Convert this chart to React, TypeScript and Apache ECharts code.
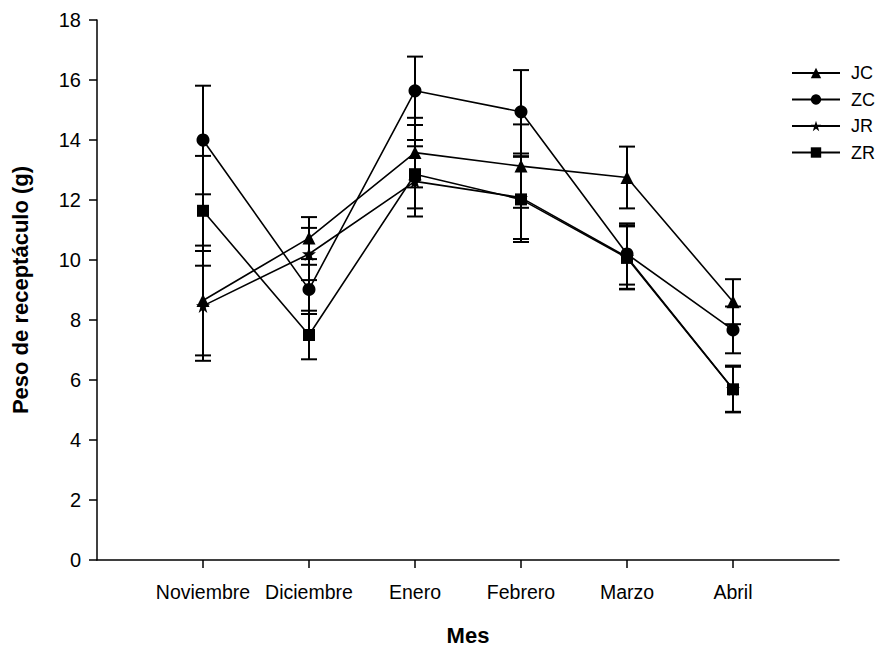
import React, { useEffect, useRef } from "react";
import * as echarts from "echarts";

const months = ["Noviembre", "Diciembre", "Enero", "Febrero", "Marzo", "Abril"];
const categories = [" ", ...months, "  "];
const yTicks = { min: 0, max: 18, interval: 2 };

const seriesNames = ["JC", "ZC", "JR", "ZR"];
const jcValues = [8.65, 10.73, 13.58, 13.13, 12.75, 8.61];
const jcErrors = [1.83, 0.7, 1.16, 1.39, 1.03, 0.75];
const zcValues = [14.0, 9.02, 15.64, 14.94, 10.2, 7.67];
const zcErrors = [1.81, 0.82, 1.14, 1.39, 1.02, 0.78];
const jrValues = [8.47, 10.2, 12.62, 12.08, 10.1, 5.7];
const jrErrors = [1.83, 0.87, 1.17, 1.38, 1.06, 0.78];
const zrValues = [11.64, 7.5, 12.86, 12.02, 10.07, 5.69];
const zrErrors = [1.83, 0.81, 1.14, 1.42, 1.05, 0.75];

const STAR =
  "path://M50,0 L61.8,35.1 L98.9,35.1 L68.9,56.9 L80.3,92.1 L50,70.4 L19.7,92.1 L31.1,56.9 L1.1,35.1 L38.2,35.1 Z";

const symbols = ["triangle", "circle", STAR, "rect"];
const symbolSizes = [13, 13, 14, 12];
const allValues = [jcValues, zcValues, jrValues, zrValues];
const allErrors = [jcErrors, zcErrors, jrErrors, zrErrors];

export default function App() {
  const ref = useRef<HTMLDivElement>(null);
  useEffect(() => {
    if (!ref.current) return;
    const chart = echarts.init(ref.current, null, { renderer: "svg" });
    const font = "Liberation Sans, Arial, sans-serif";

    const lineSeries = seriesNames.map((name, i) => ({
      name,
      type: "line",
      data: allValues[i].map((v, j) => [j + 1, v]),
      symbol: symbols[i],
      symbolSize: symbolSizes[i],
      showSymbol: true,
      lineStyle: { color: "#000", width: 1.6 },
      itemStyle: { color: "#000" },
      z: 3,
    }));

    const errorSeries = seriesNames.map((name, i) => ({
      name: name + "_err",
      type: "custom",
      data: allValues[i].map((v, j) => [j + 1, v - allErrors[i][j], v + allErrors[i][j]]),
      renderItem: (params: any, api: any) => {
        const x = api.value(0);
        const lo = api.coord([x, api.value(1)]);
        const hi = api.coord([x, api.value(2)]);
        const hw = 8;
        const style = { stroke: "#000", lineWidth: 2 };
        return {
          type: "group",
          children: [
            { type: "line", shape: { x1: lo[0], y1: lo[1], x2: hi[0], y2: hi[1] }, style },
            { type: "line", shape: { x1: lo[0] - hw, y1: lo[1], x2: lo[0] + hw, y2: lo[1] }, style },
            { type: "line", shape: { x1: hi[0] - hw, y1: hi[1], x2: hi[0] + hw, y2: hi[1] }, style },
          ],
        };
      },
      z: 2,
      silent: true,
    }));

    chart.setOption({
      animation: false,
      backgroundColor: "#fff",
      textStyle: { fontFamily: font },
      grid: { left: 97, right: 39, top: 20, bottom: 87, outerBoundsMode: "none", containLabel: false },
      legend: {
        data: seriesNames,
        orient: "vertical",
        left: 786,
        top: 59,
        itemWidth: 48,
        itemHeight: 13,
        itemGap: 8.5,
        textStyle: { fontSize: 18, color: "#000", fontFamily: font, padding: [0, 0, 0, 6] },
      },
      xAxis: {
        type: "category",
        data: categories,
        boundaryGap: false,
        name: "Mes",
        nameLocation: "middle",
        nameGap: 64,
        nameTextStyle: { fontSize: 22, fontWeight: "bold", color: "#000", fontFamily: font },
        axisLine: { lineStyle: { color: "#000", width: 1.5 } },
        axisTick: {
          show: true,
          inside: false,
          length: 8,
          interval: (idx: number) => idx > 0 && idx < categories.length - 1,
          lineStyle: { color: "#000", width: 1.5 },
        },
        axisLabel: {
          interval: 0,
          fontSize: 19.5,
          color: "#000",
          margin: 22,
          fontFamily: font,
        },
        splitLine: { show: false },
      },
      yAxis: {
        type: "value",
        min: yTicks.min,
        max: yTicks.max,
        interval: yTicks.interval,
        name: "Peso de receptáculo (g)",
        nameLocation: "middle",
        nameGap: 66,
        nameRotate: 90,
        nameTextStyle: { fontSize: 22, fontWeight: "bold", color: "#000", fontFamily: font },
        axisLine: { show: true, lineStyle: { color: "#000", width: 1.5 } },
        axisTick: { show: true, length: 8, lineStyle: { color: "#000", width: 1.5 } },
        axisLabel: { fontSize: 20, color: "#000", margin: 16, fontFamily: font },
        splitLine: { show: false },
      },
      series: [...errorSeries, ...lineSeries],
    });
    return () => chart.dispose();
  }, []);
  return (
    <div
      ref={ref}
      style={{ position: "absolute", left: 0, top: 0, width: 878, height: 647 }}
    />
  );
}
